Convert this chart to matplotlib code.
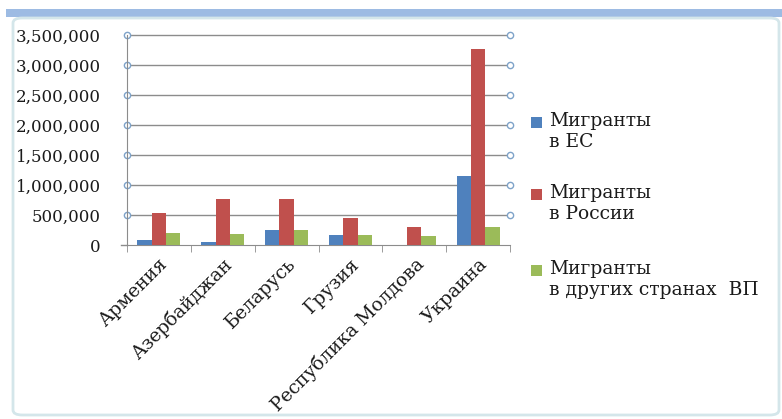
import matplotlib.pyplot as plt
import numpy as np
from matplotlib.patches import Rectangle, FancyBboxPatch
from matplotlib.ticker import FuncFormatter, MultipleLocator

# data
countries = ['Армения', 'Азербайджан', 'Беларусь', 'Грузия', 'Республика Молдова', 'Украина']
eu = [83000, 50000, 255000, 172000, 0, 1143000]
russia = [533000, 767000, 767000, 443000, 293000, 3267000]
other = [200000, 183000, 255000, 172000, 155000, 303000]
series_names = ['Мигранты\nв ЕС', 'Мигранты\nв России', 'Мигранты\nв других странах  ВП']
colors = ['#4F81BD', '#C0504D', '#9BBB59']

W, H = 782, 419
fig = plt.figure(figsize=(W / 100, H / 100), dpi=100)
plt.rcParams['font.family'] = ['DejaVu Serif']

# window decoration: blue band on top and rounded frame
fig.patches.append(Rectangle((6 / W, 1 - 17 / H), 1, 8 / H, transform=fig.transFigure,
                             facecolor='#9DBBE3', edgecolor='none'))
fig.patches.append(FancyBboxPatch((13 / W, 4 / H), (W - 16) / W, (H - 22) / H,
                                  boxstyle='round,pad=0,rounding_size=0.012',
                                  transform=fig.transFigure, facecolor='none',
                                  edgecolor='#D4E6EA', linewidth=2))

ax = fig.add_axes([127 / W, 1 - 245 / H, (510 - 127) / W, (245 - 35) / H])

x = np.arange(len(countries))
w = 0.225
for i, vals in enumerate([eu, russia, other]):
    ax.bar(x + (i - 1) * w, vals, width=w, color=colors[i], zorder=3)

ax.set_xlim(-0.5, len(countries) - 0.5)
ax.set_ylim(0, 3500000)
ax.yaxis.set_major_locator(MultipleLocator(500000))
ax.yaxis.set_major_formatter(FuncFormatter(lambda v, p: f'{int(v):,}'))

# gridlines with small circles at both ends
ticks = np.arange(500000, 3500001, 500000)
for t in ticks:
    ax.plot([-0.5, len(countries) - 0.5], [t, t], color='#8C8C8C', lw=1, zorder=1,
            marker='o', markersize=4.5, markerfacecolor='white',
            markeredgecolor='#7FA3C9', markeredgewidth=1, clip_on=False)

for s in ['top', 'right']:
    ax.spines[s].set_visible(False)
for s in ['left', 'bottom']:
    ax.spines[s].set_color('#8C8C8C')

ax.tick_params(axis='y', length=0, pad=19, labelsize=12, labelcolor='#1A1A1A')
ax.set_xticks(x)
ax.set_xticklabels(countries, rotation=45, ha='right', va='top',
                   rotation_mode='anchor', fontsize=13.5, color='#1A1A1A')
ax.tick_params(axis='x', length=0, pad=7)
ax.set_xticks(np.arange(-0.5, len(countries)), minor=True)
ax.tick_params(axis='x', which='minor', length=5, color='#8C8C8C', direction='out')
ax.plot([-0.5, -0.5 - 0.1], [0, 0], color='#8C8C8C', lw=1, clip_on=False)

# legend
ys = [122, 194, 270]
for c, name, yy in zip(colors, series_names, ys):
    fig.patches.append(Rectangle((531 / W, 1 - (yy + 6) / H), 11 / W, 11 / H,
                                 transform=fig.transFigure, facecolor=c, edgecolor='none'))
    fig.text(549 / W, 1 - (yy - 10) / H, name, ha='left', va='top', fontsize=13.5,
             color='#1A1A1A', linespacing=1.2)

fig.savefig('out.png', dpi=100)
